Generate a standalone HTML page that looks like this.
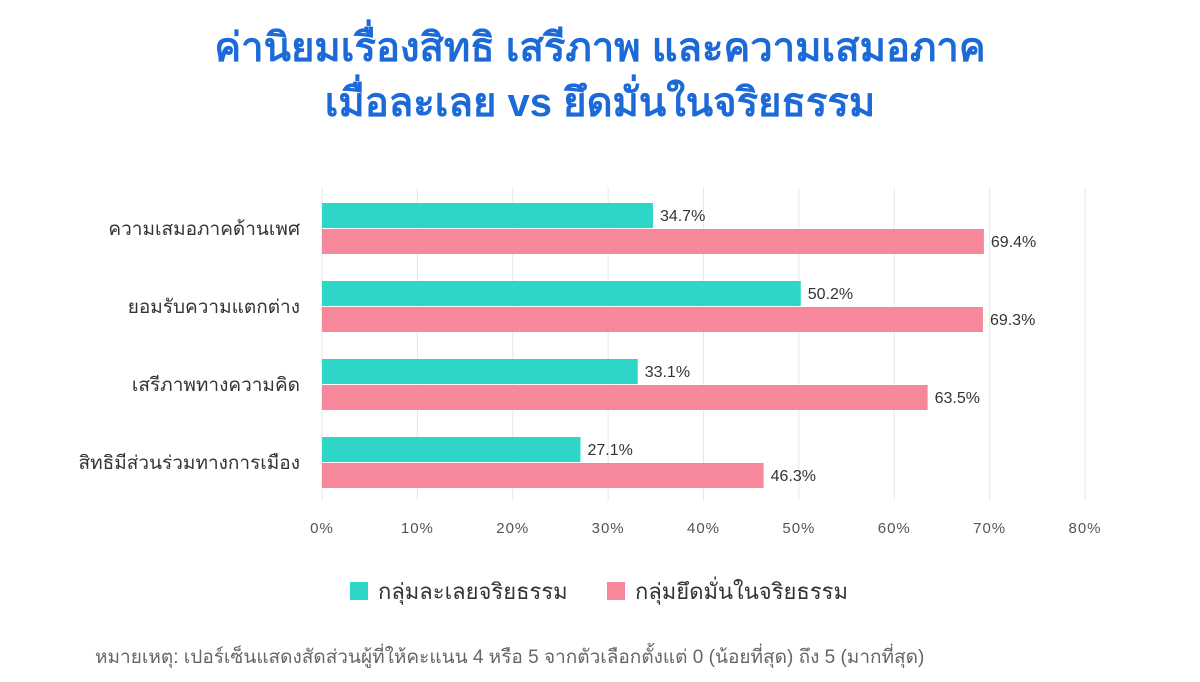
<!DOCTYPE html>
<html><head><meta charset="utf-8"><style>
body{margin:0;width:1200px;height:682px;background:#fff;font-family:"Liberation Sans","DejaVu Sans",sans-serif;overflow:hidden;position:relative}
.title{position:absolute;left:0;width:1200px;text-align:center;color:#1c6ad8;font-weight:bold;font-size:40px;line-height:55px}
.foot{position:absolute;left:95px;top:642px;font-size:19px;color:#666;white-space:nowrap}
</style></head><body>
<div class="title" style="top:21px">ค่านิยมเรื่องสิทธิ เสรีภาพ และความเสมอภาค<br>เมื่อละเลย vs ยึดมั่นในจริยธรรม</div>
<svg id="chart" width="1200" height="682" style="position:absolute;left:0;top:0"></svg>
<div class="foot">หมายเหตุ: เปอร์เซ็นแสดงสัดส่วนผู้ที่ให้คะแนน 4 หรือ 5 จากตัวเลือกตั้งแต่ 0 (น้อยที่สุด) ถึง 5 (มากที่สุด)</div>
<script>
const categories=["ความเสมอภาคด้านเพศ","ยอมรับความแตกต่าง","เสรีภาพทางความคิด","สิทธิมีส่วนร่วมทางการเมือง"];
const neglectValues=[34.7,50.2,33.1,27.1];
const upholdValues=[69.4,69.3,63.5,46.3];
const tickValues=[0,10,20,30,40,50,60,70,80];
const seriesNames=["กลุ่มละเลยจริยธรรม","กลุ่มยึดมั่นในจริยธรรม"];
const svg=document.getElementById('chart');const NS='http://www.w3.org/2000/svg';
const x0=322,x1=1085,top0=188,rowH=78,firstBar=203,barH=25;
const xs=v=>x0+(v/80)*(x1-x0);
function mk(t,a,txt){const e=document.createElementNS(NS,t);for(const k in a)e.setAttribute(k,a[k]);if(txt!=null)e.textContent=txt;svg.appendChild(e);return e;}
tickValues.forEach(t=>{
const g=mk('line',{x1:xs(t),x2:xs(t),y1:top0,y2:500,stroke:'#e6e6e6','stroke-width':1});


const l=mk('text',{x:xs(t),y:533,'text-anchor':'middle','font-size':15,fill:'#555','letter-spacing':'1'},t+'%');


});
categories.forEach((c,i)=>{
const y=firstBar+i*rowH;
const cl=mk('text',{x:300,y:y+barH+7,'text-anchor':'end','font-size':19,fill:'#333'},c);


[[neglectValues[i],'#2dd6c6',y],[upholdValues[i],'#f7879a',y+barH+1]].forEach(([v,col,yy],j)=>{
const r=mk('rect',{x:x0,y:yy,width:xs(v)-x0,height:barH,fill:col});


const t=mk('text',{x:xs(v)+7,y:yy+18,'font-size':16,fill:'#333'},v.toFixed(1)+'%');


});
});
[[350,'#2dd6c6',0],[607,'#f7879a',1]].forEach(([x,col,i])=>{
const r=mk('rect',{x:x,y:582,width:18,height:18,fill:col});


const t=mk('text',{x:x+28,y:599,'font-size':22,fill:'#333'},seriesNames[i]);


});
</script>
</body></html>
